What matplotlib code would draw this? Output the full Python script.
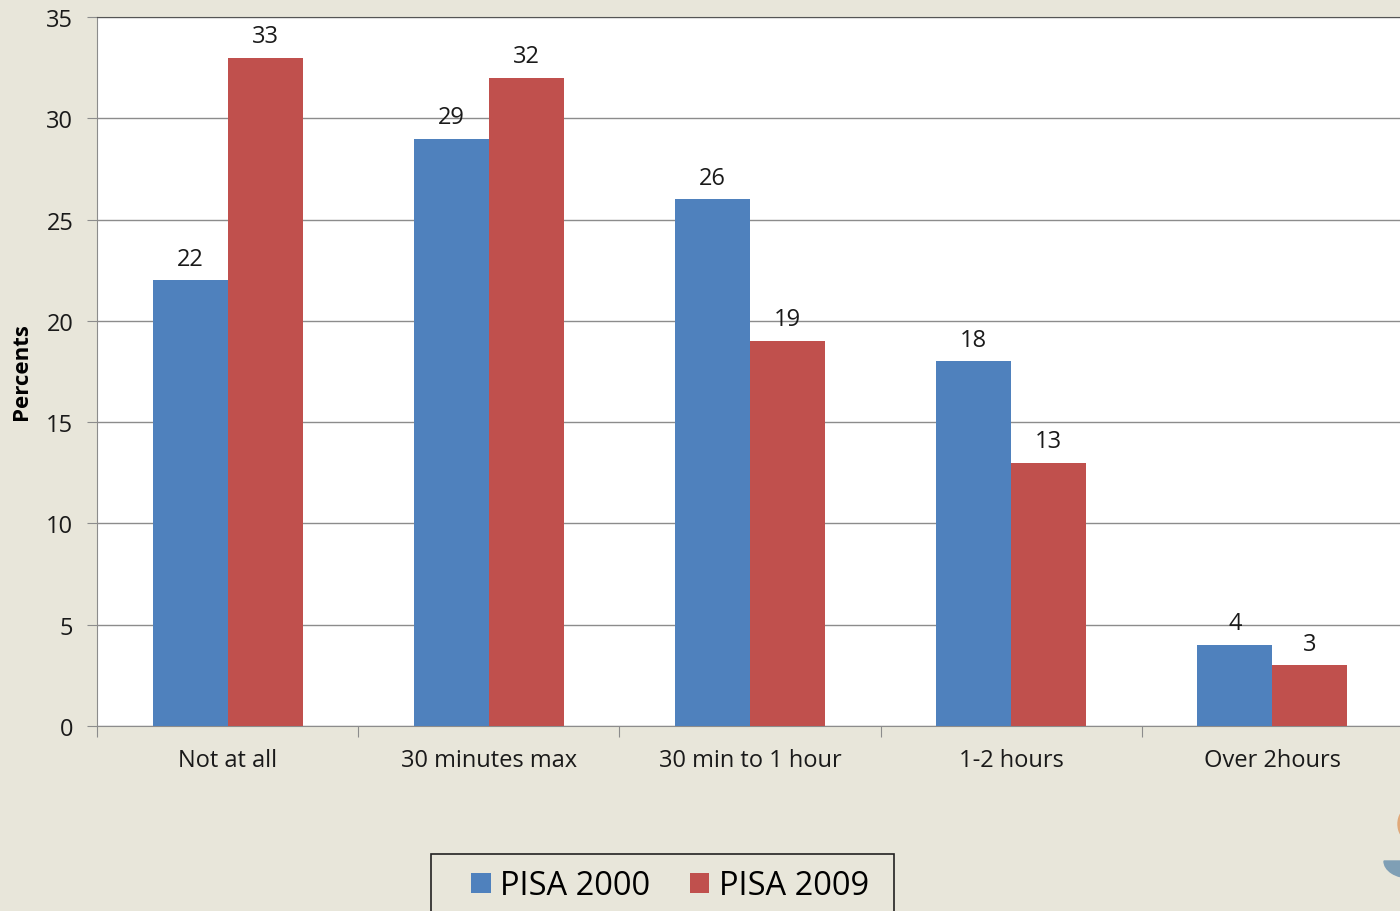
import numpy as np
import matplotlib
matplotlib.use("Agg")
from matplotlib import pyplot as plt
from matplotlib.patches import Ellipse, Wedge, Rectangle

plt.rcParams['font.family'] = ['Open Sans', 'DejaVu Sans']

categories = ['Not at all', '30 minutes max', '30 min to 1 hour', '1-2 hours', 'Over 2hours']
pisa2000 = [22, 29, 26, 18, 4]
pisa2009 = [33, 32, 19, 13, 3]
seriesNames = ['PISA 2000', 'PISA 2009']
yTicks = [0, 5, 10, 15, 20, 25, 30, 35]

blue = '#4F81BD'
red = '#C0504D'
background = '#E8E6DA'

fig = plt.figure(figsize=(14, 9.12), dpi=100)
fig.patch.set_facecolor(background)

# plot area runs slightly past the right edge of the figure
ax = fig.add_axes([97 / 1400, 1 - 727 / 912, 1306 / 1400, 709 / 912])
ax.set_facecolor('white')

x = np.arange(len(categories))
width = 0.287
bars1 = ax.bar(x - width / 2, pisa2000, width, color=blue, label=seriesNames[0], zorder=3)
bars2 = ax.bar(x + width / 2, pisa2009, width, color=red, label=seriesNames[1], zorder=3)

for bars in (bars1, bars2):
    for b in bars:
        ax.annotate(f'{b.get_height():g}', (b.get_x() + b.get_width() / 2, b.get_height()),
                    xytext=(0, 7), textcoords='offset points', ha='center', va='bottom',
                    fontsize=17, color='#1a1a1a')

ax.set_xlim(-0.5, len(categories) - 0.5)
ax.set_ylim(0, 35)
ax.set_yticks(yTicks)
ax.yaxis.grid(True, color='#8c8c8c', linewidth=1.0, zorder=0)
ax.tick_params(axis='y', length=7, color='#8c8c8c', labelsize=17, pad=10, labelcolor='#1a1a1a')

# category labels sit between boundary ticks
ax.set_xticks(np.arange(len(categories) + 1) - 0.5)
ax.set_xticklabels([])
ax.set_xticks(x, minor=True)
ax.set_xticklabels(categories, minor=True, fontsize=17, color='#1a1a1a')
ax.tick_params(axis='x', which='major', length=8, color='#8c8c8c')
ax.tick_params(axis='x', which='minor', length=0, pad=16)

for side in ('left', 'bottom'):
    ax.spines[side].set_color('#8c8c8c')
ax.spines['top'].set_color('#555555')
ax.spines['right'].set_visible(False)

fig.text(22 / 1400, 1 - 372 / 912, 'Percents', rotation=90, ha='center', va='center',
         fontsize=16, fontweight='bold', color='black')

# legend box is cut by the bottom edge, so its frame is drawn separately
fig.patches.append(Rectangle((431 / 1400, -0.05), 463 / 1400, 0.05 + 57 / 912,
                             transform=fig.transFigure, facecolor=background,
                             edgecolor='#222222', linewidth=1.2, zorder=1))
leg = fig.legend(handles=[bars1, bars2], labels=seriesNames, loc='center',
                 bbox_to_anchor=(670 / 1400, 1 - 887 / 912), borderaxespad=0, ncol=2,
                 fontsize=23.5, frameon=False, handlelength=0.6, handleheight=0.6,
                 handletextpad=0.3, columnspacing=1.2)

# small corner ornaments
fig.patches.append(Ellipse((1408 / 1400, 1 - 825 / 912), 20 / 1400, 30 / 912,
                           transform=fig.transFigure, color='#E0A878', zorder=0))
fig.patches.append(Wedge((1410 / 1400, 1 - 862 / 912), 26 / 1400, 180, 360,
                         transform=fig.transFigure, color='#7F9FB5', zorder=0))

fig.savefig('out.png', dpi=100, facecolor=background)
